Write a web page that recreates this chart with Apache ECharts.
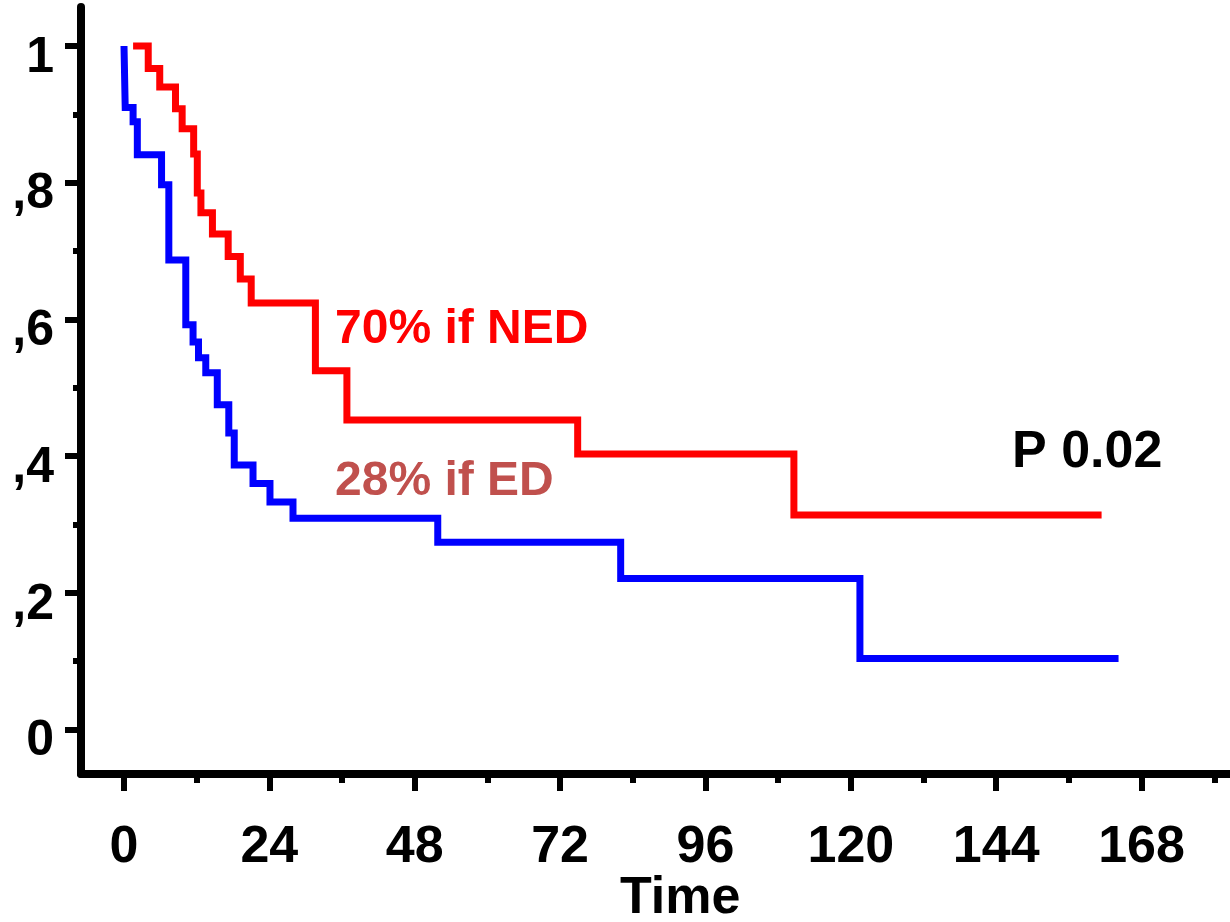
<!DOCTYPE html>
<html>
<head>
<meta charset="utf-8">
<script src="https://cdn.jsdelivr.net/npm/echarts@6/dist/echarts.min.js"></script>
<style>
  html, body { margin: 0; padding: 0; background: #fff; }
  #chart { width: 1230px; height: 922px; }
</style>
</head>
<body>
<div id="chart"></div>
<script>
// ---- data (months, survival proportion) ----
const edTime = [0, 0.2, 1.5, 2.2, 6.2, 7.4, 10.2, 11.4, 12.3, 13.5, 15.4, 17.3, 18.2, 21.3, 24.1, 27.9, 51.8, 82.0, 121.5, 164.2];
const edSurv = [1.0, 0.910, 0.889, 0.841, 0.797, 0.687, 0.592, 0.567, 0.544, 0.522, 0.475, 0.434, 0.387, 0.360, 0.333, 0.309, 0.274, 0.221, 0.104, 0.104];

const nedTime = [1.5, 4.0, 5.9, 8.5, 9.6, 11.5, 12.1, 12.7, 14.6, 17.2, 19.2, 21.0, 31.6, 36.8, 74.9, 110.6, 161.4];
const nedSurv = [1.0, 0.967, 0.940, 0.908, 0.879, 0.842, 0.785, 0.756, 0.725, 0.692, 0.659, 0.624, 0.525, 0.453, 0.403, 0.314, 0.314];

const xTickValues = [0, 24, 48, 72, 96, 120, 144, 168];
const xMinorTickValues = [12, 36, 60, 84, 108, 132, 156, 180];
const yTickValues = [0, 0.2, 0.4, 0.6, 0.8, 1];
const yTickLabels = ['0', ',2', ',4', ',6', ',8', '1'];
const yMinorTickValues = [0.1, 0.3, 0.5, 0.7, 0.9];

const annotations = [
  { text: '70% if NED', color: '#ff0000' },
  { text: '28% if ED', color: '#c0504d' },
  { text: 'P 0.02', color: '#000000' }
];
const xAxisTitle = 'Time';

// ---- chart ----
const chart = echarts.init(document.getElementById('chart'), null, { renderer: 'canvas' });
const xMin = -7.1, xMax = 182.6;
const yMin = -0.065, yMax = 1.057;
const boldFont = "'Liberation Sans', Arial, sans-serif";
const narrowFont = "'Liberation Sans Narrow', 'Arial Narrow', 'Liberation Sans', Arial, sans-serif";

function yLabel(v) {
  const i = yTickValues.findIndex(t => Math.abs(t - v) < 1e-6);
  return i >= 0 ? yTickLabels[i] : '';
}

const option = {
  animation: false,
  backgroundColor: '#ffffff',
  grid: { left: 81, right: 0, top: 7, bottom: 148, containLabel: false },
  xAxis: [
    {
      type: 'value', min: xMin, max: xMax, position: 'bottom',
      splitLine: { show: false },
      axisLine: { show: true, onZero: false, lineStyle: { color: '#000', width: 8 } },
      axisTick: { show: true, customValues: xTickValues, length: 17, lineStyle: { color: '#000', width: 6 } },
      axisLabel: {
        show: true, customValues: xTickValues, margin: 47, lineHeight: 53, verticalAlign: 'top',
        color: '#000', fontSize: 52, fontWeight: 'bold', fontFamily: narrowFont
      }
    },
    {
      type: 'value', min: xMin, max: xMax, position: 'bottom', offset: 0,
      splitLine: { show: false },
      axisLine: { show: false, onZero: false },
      axisTick: { show: true, customValues: xMinorTickValues, length: 9, lineStyle: { color: '#000', width: 6 } },
      axisLabel: { show: false }
    }
  ],
  yAxis: [
    {
      type: 'value', min: yMin, max: yMax, position: 'left',
      splitLine: { show: false },
      axisLine: { show: true, onZero: false, lineStyle: { color: '#000', width: 8 } },
      axisTick: { show: true, customValues: yTickValues, length: 16, lineStyle: { color: '#000', width: 6 } },
      axisLabel: {
        show: true, customValues: yTickValues, margin: 27,
        verticalAlign: 'top', lineHeight: 24,
        color: '#000', fontSize: 50, fontWeight: 'bold', fontFamily: boldFont,
        formatter: yLabel
      }
    },
    {
      type: 'value', min: yMin, max: yMax, position: 'left', offset: 0,
      splitLine: { show: false },
      axisLine: { show: false, onZero: false },
      axisTick: { show: true, customValues: yMinorTickValues, length: 8, lineStyle: { color: '#000', width: 6 } },
      axisLabel: { show: false }
    }
  ],
  series: [
    {
      name: 'ED', type: 'line', step: 'end', showSymbol: false, symbol: 'none',
      xAxisIndex: 0, yAxisIndex: 0,
      lineStyle: { color: '#0000ff', width: 7, cap: 'butt', join: 'miter' },
      data: edTime.map((t, i) => [t, edSurv[i]])
    },
    {
      name: 'NED', type: 'line', step: 'end', showSymbol: false, symbol: 'none',
      xAxisIndex: 0, yAxisIndex: 0,
      lineStyle: { color: '#ff0000', width: 7, cap: 'butt', join: 'miter' },
      data: nedTime.map((t, i) => [t, nedSurv[i]])
    }
  ],
  graphic: [
    { type: 'text', left: 335, top: 306, style: { text: annotations[0].text, fill: annotations[0].color, font: "bold 48px " + boldFont } },
    { type: 'text', left: 335, top: 458, style: { text: annotations[1].text, fill: annotations[1].color, font: "bold 48px " + boldFont } },
    { type: 'text', left: 1012, top: 427, style: { text: annotations[2].text, fill: annotations[2].color, font: "bold 52px " + boldFont } },
    { type: 'text', left: 620, top: 873, style: { text: xAxisTitle, fill: '#000', font: "bold 52px " + narrowFont } }
  ]
};
chart.setOption(option);
</script>
</body>
</html>
